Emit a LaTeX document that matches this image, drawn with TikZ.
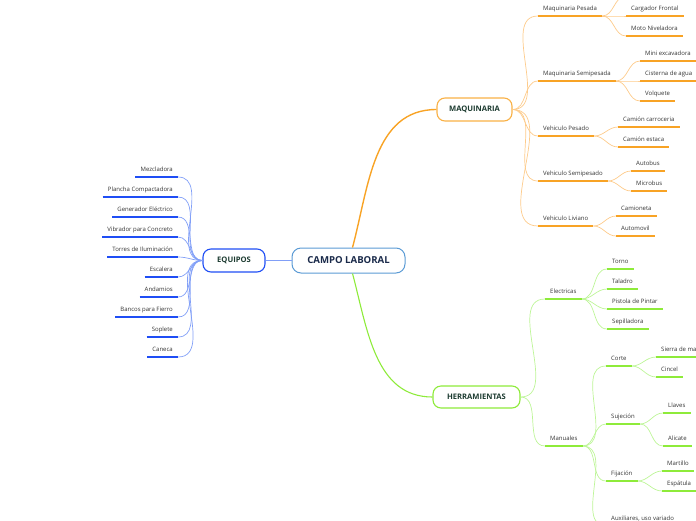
\documentclass[tikz,border=0pt]{standalone}
\usepackage{fontspec}
\setmainfont{Open Sans}
\definecolor{ordark}{HTML}{F8A325}
\definecolor{orlight}{HTML}{FDCB8B}
\definecolor{grdark}{HTML}{8EEB3A}
\definecolor{grlight}{HTML}{BDF597}
\definecolor{bldark}{HTML}{1F4EF5}
\definecolor{bllight}{HTML}{819FF7}
\definecolor{rootblue}{HTML}{5B9BD5}
\definecolor{rootink}{HTML}{1A2A4A}
\definecolor{topink}{HTML}{1C3B30}
\definecolor{leafink}{HTML}{333333}

\begin{document}
\begin{tikzpicture}[x=1pt, y=1pt,
    root/.style={draw=rootblue, line width=1pt, fill=white, rounded corners=9pt,
      minimum width=113pt, minimum height=25pt,
      font=\fontsize{9.6}{11}\selectfont\bfseries, text=rootink},
    topic/.style={draw=#1, line width=1.1pt, fill=white, rounded corners=8pt,
      minimum height=23pt, font=\fontsize{7.6}{9}\selectfont\bfseries, text=topink},
    leaf/.style={anchor=south west, inner xsep=5pt, inner ysep=2.5pt,
      text height=5pt, text depth=3pt, font=\fontsize{6}{7}\selectfont, text=leafink},
    eleaf/.style={leaf, anchor=south east},
    ocurve/.style={draw=orlight, line width=0.7pt},
    gcurve/.style={draw=grlight, line width=0.7pt},
    bcurve/.style={draw=bllight, line width=0.7pt},
    ouline/.style={draw=ordark, line width=1.8pt},
    guline/.style={draw=grdark, line width=1.8pt},
    buline/.style={draw=bldark, line width=1.8pt}]

    \clip (0,0) rectangle (696,-520);

    % Central node and main topics
    \node[root] (campo) at (348.5,-260.5) {CAMPO LABORAL};
    \node[topic=bldark, minimum width=62pt] (equipos) at (234,-260.5) {EQUIPOS};
    \node[topic=ordark!85, minimum width=75pt] (maq) at (474.5,-109.5) {MAQUINARIA};
    \node[topic=grdark, minimum width=87pt, minimum height=22pt] (herr) at (476.5,-397) {HERRAMIENTAS};

    % Maquinaria
    \node[leaf] (mPes) at (538,-16) {Maquinaria Pesada};
    \node[leaf] (cCarg) at (626,-16) {Cargador Frontal};
    \node[leaf] (cMoto) at (626,-36) {Moto Niveladora};
    \coordinate (cHid) at (626,4);
    \node[leaf] (mSemi) at (538,-81) {Maquinaria Semipesada};
    \node[leaf] (cMini) at (640,-61) {Mini excavadora};
    \node[leaf] (cCist) at (640,-81) {Cisterna de agua};
    \node[leaf] (cVolq) at (640,-101) {Volquete};
    \node[leaf] (vPes) at (538,-136) {Vehiculo Pesado};
    \node[leaf] (cCarr) at (618,-127) {Camión carroceria};
    \node[leaf] (cEst) at (618,-147) {Camión estaca};
    \node[leaf] (vSemi) at (538,-181) {Vehiculo Semipesado};
    \node[leaf] (cAutob) at (631,-171) {Autobus};
    \node[leaf] (cMicro) at (631,-191) {Microbus};
    \node[leaf] (vLiv) at (538,-226) {Vehiculo Liviano};
    \node[leaf] (cCamta) at (616,-216) {Camioneta};
    \node[leaf] (cAutom) at (616,-236) {Automovil};

    % Herramientas
    \node[leaf] (hElec) at (545,-299) {Electricas};
    \node[leaf] (cTorno) at (607,-269) {Torno};
    \node[leaf] (cTal) at (607,-289) {Taladro};
    \node[leaf] (cPist) at (607,-309) {Pistola de Pintar};
    \node[leaf] (cSep) at (607,-329) {Sepilladora};
    \node[leaf] (hMan) at (545,-446) {Manuales};
    \node[leaf] (mCorte) at (606,-366) {Corte};
    \node[leaf] (cSierra) at (656,-357) {Sierra de mano};
    \node[leaf] (cCincel) at (656,-377) {Cincel};
    \node[leaf] (mSuj) at (606,-424) {Sujeción};
    \node[leaf] (cLlaves) at (663,-413) {Llaves};
    \node[leaf] (cAlic) at (663,-446) {Alicate};
    \node[leaf] (mFij) at (606,-481) {Fijación};
    \node[leaf] (cMart) at (662,-471) {Martillo};
    \node[leaf] (cEsp) at (662,-491) {Espátula};
    \node[leaf] (mAux) at (606,-526) {Auxiliares, uso variado};

    % Equipos
    \node[eleaf] (eMez) at (178,-177) {Mezcladora};
    \node[eleaf] (ePlan) at (178,-197) {Plancha Compactadora};
    \node[eleaf] (eGen) at (178,-217) {Generador Eléctrico};
    \node[eleaf] (eVib) at (178,-237) {Vibrador para Concreto};
    \node[eleaf] (eTor) at (178,-257) {Torres de Iluminación};
    \node[eleaf] (eEsc) at (178,-277) {Escalera};
    \node[eleaf] (eAnd) at (178,-297) {Andamios};
    \node[eleaf] (eBan) at (178,-317) {Bancos para Fierro};
    \node[eleaf] (eSop) at (178,-337) {Soplete};
    \node[eleaf] (eCan) at (178,-357) {Caneca};

    % Main branches
    \draw[draw=ordark, line width=1.4pt] ([xshift=4pt]campo.north) to[out=75,in=180] (maq.west);
    \draw[draw=grdark, line width=1.1pt] ([xshift=4pt]campo.south) to[out=-75,in=180] (herr.west);
    \draw[draw=bllight, line width=1.8pt] (equipos.east) -- (campo.west);

    % Maquinaria branches
    \foreach \n in {mPes,mSemi,vPes,vSemi,vLiv}
        \draw[ocurve] (maq.east) to[out=0,in=180] (\n.south west);
    \foreach \p/\c in {mPes/cCarg, mPes/cMoto, mSemi/cMini, mSemi/cCist, mSemi/cVolq,
                       vPes/cCarr, vPes/cEst, vSemi/cAutob, vSemi/cMicro, vLiv/cCamta, vLiv/cAutom}
        \draw[ocurve] (\p.south east) to[out=0,in=180] (\c.south west);
    \draw[ocurve] (mPes.south east) to[out=0,in=180] (cHid);

    % Herramientas branches
    \foreach \n in {hElec,hMan}
        \draw[gcurve] (herr.east) to[out=0,in=180] (\n.south west);
    \foreach \p/\c in {hElec/cTorno, hElec/cTal, hElec/cPist, hElec/cSep,
                       hMan/mCorte, hMan/mSuj, hMan/mFij, hMan/mAux,
                       mCorte/cSierra, mCorte/cCincel, mSuj/cLlaves, mSuj/cAlic,
                       mFij/cMart, mFij/cEsp}
        \draw[gcurve] (\p.south east) to[out=0,in=180] (\c.south west);

    % Equipos branches
    \foreach \n in {eMez,ePlan,eGen,eVib,eTor,eEsc,eAnd,eBan,eSop,eCan}
        \draw[bcurve] (\n.south east) to[out=0,in=180] (equipos.west);

    % Underlines
    \foreach \n in {mPes,cCarg,cMoto,mSemi,cMini,cCist,cVolq,vPes,cCarr,cEst,
                    vSemi,cAutob,cMicro,vLiv,cCamta,cAutom}
        \draw[ouline] (\n.south west) -- (\n.south east);
    \foreach \n in {hElec,cTorno,cTal,cPist,cSep,hMan,mCorte,cSierra,cCincel,
                    mSuj,cLlaves,cAlic,mFij,cMart,cEsp,mAux}
        \draw[guline] (\n.south west) -- (\n.south east);
    \foreach \n in {eMez,ePlan,eGen,eVib,eTor,eEsc,eAnd,eBan,eSop,eCan}
        \draw[buline] (\n.south west) -- (\n.south east);
\end{tikzpicture}
\end{document}
